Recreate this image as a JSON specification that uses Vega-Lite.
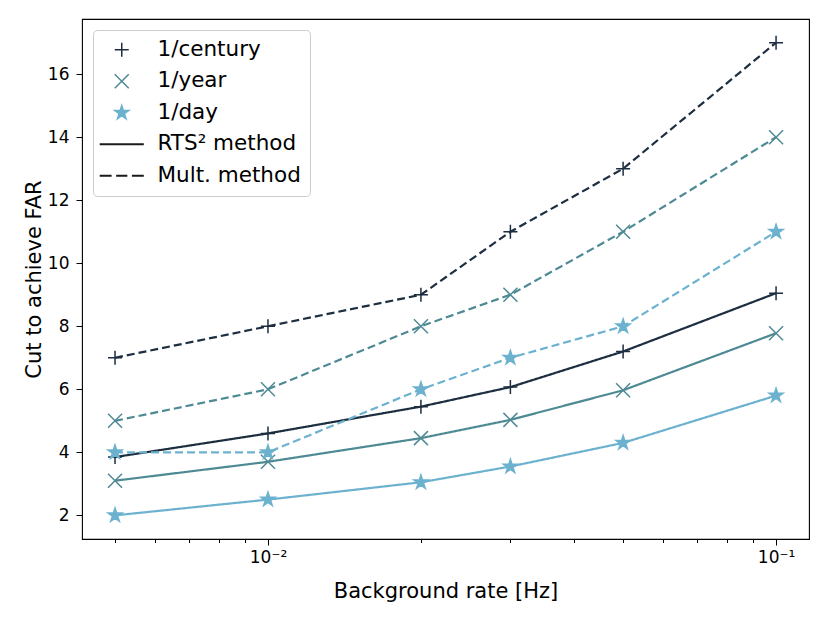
{
  "$schema": "https://vega.github.io/schema/vega-lite/v6.json",
  "autosize": "none",
  "padding": {"left": 82, "top": 19, "right": 21, "bottom": 84},
  "width": 727,
  "height": 520,
  "background": "white",
  "config": {
    "font": "DejaVu Sans",
    "view": {"stroke": "#000000", "strokeWidth": 1.1},
    "axis": {
      "domain": false,
      "grid": false,
      "tickColor": "#000000",
      "tickWidth": 1,
      "labelColor": "#000000",
      "labelFontSize": 17,
      "titleColor": "#000000",
      "titleFontSize": 21,
      "titleFontWeight": "normal"
    },
    "legend": {
      "orient": "none",
      "legendX": 11,
      "legendY": 11,
      "padding": 9,
      "symbolOffset": 9,
      "labelOffset": 25,
      "labelFontSize": 21.5,
      "labelColor": "#000000",
      "rowPadding": 8.5,
      "fillColor": "rgba(255,255,255,0.8)",
      "strokeColor": "#cccccc",
      "cornerRadius": 4,
      "symbolSize": 196
    }
  },
  "data": {
    "values": [
      {"rate": "1/century", "method": "RTS² method", "bg": 0.005, "cut": 3.85},
      {"rate": "1/century", "method": "RTS² method", "bg": 0.01, "cut": 4.6},
      {"rate": "1/century", "method": "RTS² method", "bg": 0.02, "cut": 5.45},
      {"rate": "1/century", "method": "RTS² method", "bg": 0.03, "cut": 6.07},
      {"rate": "1/century", "method": "RTS² method", "bg": 0.05, "cut": 7.2},
      {"rate": "1/century", "method": "RTS² method", "bg": 0.1, "cut": 9.05},
      {"rate": "1/year", "method": "RTS² method", "bg": 0.005, "cut": 3.1},
      {"rate": "1/year", "method": "RTS² method", "bg": 0.01, "cut": 3.7},
      {"rate": "1/year", "method": "RTS² method", "bg": 0.02, "cut": 4.45},
      {"rate": "1/year", "method": "RTS² method", "bg": 0.03, "cut": 5.03},
      {"rate": "1/year", "method": "RTS² method", "bg": 0.05, "cut": 5.97},
      {"rate": "1/year", "method": "RTS² method", "bg": 0.1, "cut": 7.78},
      {"rate": "1/day", "method": "RTS² method", "bg": 0.005, "cut": 2.0},
      {"rate": "1/day", "method": "RTS² method", "bg": 0.01, "cut": 2.5},
      {"rate": "1/day", "method": "RTS² method", "bg": 0.02, "cut": 3.05},
      {"rate": "1/day", "method": "RTS² method", "bg": 0.03, "cut": 3.55},
      {"rate": "1/day", "method": "RTS² method", "bg": 0.05, "cut": 4.3},
      {"rate": "1/day", "method": "RTS² method", "bg": 0.1, "cut": 5.8},
      {"rate": "1/century", "method": "Mult. method", "bg": 0.005, "cut": 7},
      {"rate": "1/century", "method": "Mult. method", "bg": 0.01, "cut": 8},
      {"rate": "1/century", "method": "Mult. method", "bg": 0.02, "cut": 9},
      {"rate": "1/century", "method": "Mult. method", "bg": 0.03, "cut": 11},
      {"rate": "1/century", "method": "Mult. method", "bg": 0.05, "cut": 13},
      {"rate": "1/century", "method": "Mult. method", "bg": 0.1, "cut": 17},
      {"rate": "1/year", "method": "Mult. method", "bg": 0.005, "cut": 5},
      {"rate": "1/year", "method": "Mult. method", "bg": 0.01, "cut": 6},
      {"rate": "1/year", "method": "Mult. method", "bg": 0.02, "cut": 8},
      {"rate": "1/year", "method": "Mult. method", "bg": 0.03, "cut": 9},
      {"rate": "1/year", "method": "Mult. method", "bg": 0.05, "cut": 11},
      {"rate": "1/year", "method": "Mult. method", "bg": 0.1, "cut": 14},
      {"rate": "1/day", "method": "Mult. method", "bg": 0.005, "cut": 4},
      {"rate": "1/day", "method": "Mult. method", "bg": 0.01, "cut": 4},
      {"rate": "1/day", "method": "Mult. method", "bg": 0.02, "cut": 6},
      {"rate": "1/day", "method": "Mult. method", "bg": 0.03, "cut": 7},
      {"rate": "1/day", "method": "Mult. method", "bg": 0.05, "cut": 8},
      {"rate": "1/day", "method": "Mult. method", "bg": 0.1, "cut": 11}
    ]
  },
  "layer": [
    {
      "mark": {"type": "line", "strokeWidth": 2.2},
      "encoding": {
        "x": {
          "field": "bg",
          "type": "quantitative",
          "scale": {"type": "log", "domain": [0.004305, 0.1161], "nice": false},
          "axis": {
            "orient": "bottom",
            "values": [0.01, 0.1],
            "tickSize": 6,
            "labelPadding": 4,
            "labelExpr": "datum.value == 0.01 ? '10⁻²' : datum.value == 0.1 ? '10⁻¹' : ''",
            "title": "Background rate [Hz]",
            "titlePadding": 15
          }
        },
        "y": {
          "field": "cut",
          "type": "quantitative",
          "scale": {"domain": [1.25, 17.75], "nice": false, "zero": false},
          "axis": {
            "values": [2, 4, 6, 8, 10, 12, 14, 16],
            "tickSize": 6,
            "labelPadding": 7,
            "title": "Cut to achieve FAR",
            "titlePadding": 3
          }
        },
        "color": {
          "field": "rate",
          "type": "nominal",
          "scale": {
            "domain": ["1/century", "1/year", "1/day", "RTS² method", "Mult. method"],
            "range": ["#1c2e40", "#4e8a94", "#6cb2cf", "#1a1a1a", "#1a1a1a"]
          },
          "legend": {
            "title": null,
            "encode": {
              "symbols": {
                "update": {
                  "fill": {"signal": "datum.value === '1/day' ? '#6cb2cf' : 'transparent'"},
                  "fillOpacity": {"value": 1},
                  "strokeWidth": {"signal": "datum.value === 'RTS² method' || datum.value === 'Mult. method' ? 2.2 : 1.5"}
                }
              }
            }
          }
        },
        "strokeDash": {
          "field": "method",
          "type": "nominal",
          "scale": {"domain": ["RTS² method", "Mult. method"], "range": [[1, 0], [8, 4]]},
          "legend": null
        }
      }
    },
    {
      "mark": {"type": "point", "filled": false, "size": 196, "strokeWidth": 1.5, "opacity": 1},
      "encoding": {
        "x": {
          "field": "bg",
          "type": "quantitative",
          "axis": {
            "orient": "bottom",
            "values": [0.005, 0.006, 0.007, 0.008, 0.009, 0.02, 0.03, 0.04, 0.05, 0.06, 0.07, 0.08, 0.09],
            "tickSize": 3.5,
            "labels": false,
            "title": null
          }
        },
        "y": {"field": "cut", "type": "quantitative"},
        "color": {
          "field": "rate",
          "type": "nominal",
          "scale": {
            "domain": ["1/century", "1/year", "1/day", "RTS² method", "Mult. method"],
            "range": ["#1c2e40", "#4e8a94", "#6cb2cf", "#1a1a1a", "#1a1a1a"]
          },
          "legend": {
            "title": null,
            "encode": {
              "symbols": {
                "update": {
                  "fill": {"signal": "datum.value === '1/day' ? '#6cb2cf' : 'transparent'"},
                  "fillOpacity": {"value": 1},
                  "strokeWidth": {"signal": "datum.value === 'RTS² method' || datum.value === 'Mult. method' ? 2.2 : 1.5"}
                }
              }
            }
          }
        },
        "shape": {
          "field": "rate",
          "type": "nominal",
          "scale": {
            "domain": ["1/century", "1/year", "1/day", "RTS² method", "Mult. method"],
            "range": [
              "M-1,0L1,0M0,-1L0,1",
              "M-1,-1L1,1M-1,1L1,-1",
              "M0,-1.05L0.234,-0.323L0.998,-0.325L0.38,0.123L0.617,0.85L0,0.4L-0.617,0.85L-0.38,0.123L-0.998,-0.325L-0.234,-0.323Z",
              "M-3.15,0L3.15,0",
              "M-3.15,0L-1.45,0M-0.8,0L0.8,0M1.45,0L3.15,0"
            ]
          },
          "legend": {
            "title": null,
            "encode": {
              "symbols": {
                "update": {
                  "fill": {"signal": "datum.value === '1/day' ? '#6cb2cf' : 'transparent'"},
                  "fillOpacity": {"value": 1},
                  "strokeWidth": {"signal": "datum.value === 'RTS² method' || datum.value === 'Mult. method' ? 2.2 : 1.5"}
                }
              }
            }
          }
        },
        "fill": {
          "condition": {"test": "datum.rate === '1/day'", "value": "#6cb2cf"},
          "value": "transparent"
        }
      }
    }
  ],
  "resolve": {"axis": {"x": "independent"}}
}
